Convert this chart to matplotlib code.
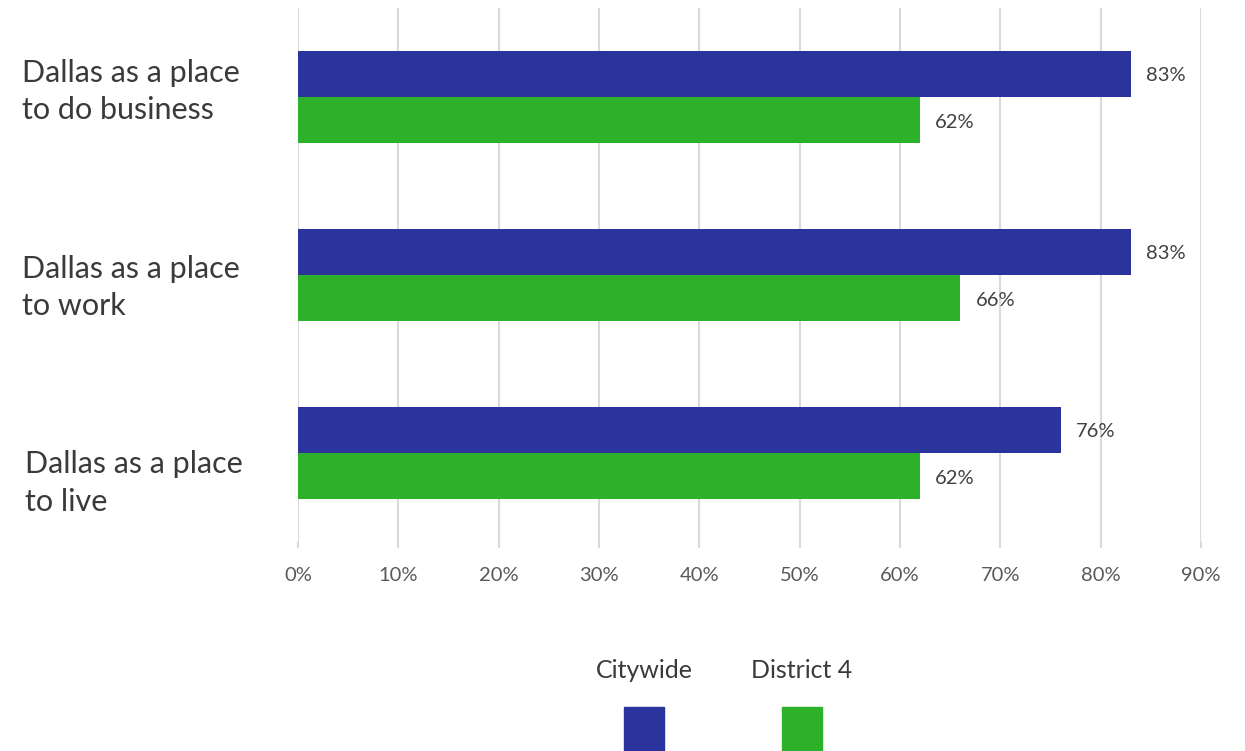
import matplotlib
matplotlib.use("Agg")
import matplotlib.pyplot as plt
import matplotlib.transforms as mtransforms
from matplotlib.patches import Rectangle
import numpy as np

categories = ["Dallas as a place\nto do business",
              "Dallas as a place\nto work",
              "Dallas as a place\nto live"]
citywide = [83, 83, 76]
district4 = [62, 66, 62]
series_names = ["Citywide", "District 4"]
colors = ["#2B349C", "#2DB02A"]
ticks = [0, 10, 20, 30, 40, 50, 60, 70, 80, 90]

W, H = 1245, 751
fig = plt.figure(figsize=(W / 100, H / 100), dpi=100)
ax = fig.add_axes([298 / W, 1 - 542 / H, 903 / W, 534 / H])

y = np.arange(len(categories))
h = 0.26
ax.barh(y - h / 2, citywide, height=h, color=colors[0], zorder=3)
ax.barh(y + h / 2, district4, height=h, color=colors[1], zorder=3)

for yy, v in zip(y - h / 2, citywide):
    ax.annotate(f"{v}%", (v, yy), xytext=(11, -1.5), textcoords="offset points",
                va="center", ha="left", fontsize=14.5, color="#404040", family="Lato")
for yy, v in zip(y + h / 2, district4):
    ax.annotate(f"{v}%", (v, yy), xytext=(11, -1.5), textcoords="offset points",
                va="center", ha="left", fontsize=14.5, color="#404040", family="Lato")

ax.set_xlim(0, 90)
ax.set_ylim(len(categories) - 0.5, -0.5)
ax.set_xticks(ticks)
ax.set_xticklabels([f"{t}%" for t in ticks], fontsize=14.5, color="#595959", family="Lato")
ax.set_yticks([])
ax.tick_params(axis="x", length=4, width=1.5, color="#D9D9D9", pad=14)
ax.grid(axis="x", color="#D9D9D9", linewidth=1.5, zorder=0)
for s in ax.spines.values():
    s.set_visible(False)

# category labels, left aligned in the margin
trans = mtransforms.blended_transform_factory(ax.transAxes, ax.transData)
label_y = [-0.03, 0.07, 0.17]
label_x = [-0.306, -0.306, -0.302]
for i, lab in enumerate(categories):
    ax.text(label_x[i], i + label_y[i], lab, transform=trans, ha="left", va="center",
            fontsize=22, family="Lato", color="#3A3A3A", linespacing=1.42)

# legend: name above a colour swatch
leg_x = [644, 802]
for name, c, lx in zip(series_names, colors, leg_x):
    fig.text(lx / W, 1 - 670 / H, name, ha="center", va="center", fontsize=18,
             family="Lato", color="#3A3A3A")
    fig.add_artist(Rectangle(((lx - 20) / W, 0), 40 / W, 44 / H,
                             transform=fig.transFigure, color=c))

fig.savefig("out.png", dpi=100)
